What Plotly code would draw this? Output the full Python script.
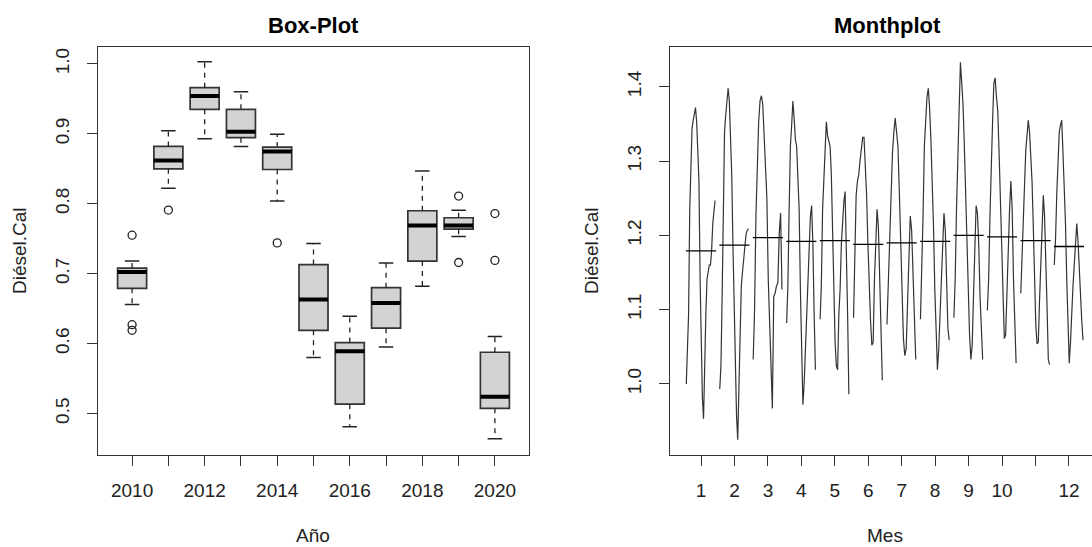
import plotly.graph_objects as go

# ---------------- Box-Plot: resumen anual de Diésel.Cal ----------------
anios = [2010, 2011, 2012, 2013, 2014, 2015, 2016, 2017, 2018, 2019, 2020]
bigote_inf = [0.656, 0.822, 0.893, 0.882, 0.804, 0.580, 0.481, 0.595, 0.682, 0.753, 0.464]
cuartil_1 = [0.679, 0.850, 0.935, 0.8945, 0.849, 0.619, 0.5134, 0.622, 0.718, 0.7637, 0.5075]
mediana = [0.7025, 0.862, 0.954, 0.903, 0.8746, 0.663, 0.589, 0.658, 0.769, 0.769, 0.524]
cuartil_3 = [0.708, 0.882, 0.966, 0.935, 0.881, 0.713, 0.6015, 0.680, 0.790, 0.780, 0.5876]
bigote_sup = [0.718, 0.9045, 1.003, 0.960, 0.8995, 0.743, 0.639, 0.7154, 0.847, 0.7906, 0.610]
atipicos_anio = [2010, 2010, 2010, 2011, 2014, 2019, 2019, 2020, 2020]
atipicos_valor = [0.755, 0.627, 0.619, 0.791, 0.744, 0.811, 0.716, 0.786, 0.719]

# ---------------- Monthplot: subseries por mes ----------------
mes_01 = [1.000, 1.047, 1.094, 1.235, 1.306, 1.344, 1.355, 1.367, 1.372, 1.353, 1.306, 1.273, 1.141,
          1.047, 0.981, 0.953, 1.042, 1.094, 1.141, 1.155, 1.160, 1.160, 1.179, 1.216, 1.235, 1.247]
mes_02 = [0.993, 1.024, 1.118, 1.273, 1.339, 1.362, 1.381, 1.398, 1.381, 1.329, 1.282, 1.188, 1.094,
          1.024, 0.958, 0.925, 1.000, 1.080, 1.132, 1.151, 1.169, 1.188, 1.202, 1.207, 1.209]
mes_03 = [1.033, 1.099, 1.226, 1.306, 1.353, 1.381, 1.388, 1.376, 1.339, 1.282, 1.249, 1.141, 1.071,
          1.024, 0.967, 1.118, 1.122, 1.132, 1.136, 1.202, 1.230, 1.127]
mes_04 = [1.082, 1.132, 1.235, 1.320, 1.348, 1.381, 1.358, 1.329, 1.320, 1.282, 1.235, 1.127, 1.024,
          0.972, 1.000, 1.047, 1.094, 1.132, 1.179, 1.226, 1.240, 1.188, 1.094, 1.019]
mes_05 = [1.087, 1.132, 1.235, 1.282, 1.320, 1.353, 1.334, 1.325, 1.320, 1.282, 1.188, 1.104, 1.056,
          1.024, 1.019, 1.094, 1.127, 1.188, 1.226, 1.245, 1.259, 1.188, 1.094, 0.986]
mes_06 = [1.089, 1.160, 1.254, 1.273, 1.282, 1.301, 1.320, 1.332, 1.332, 1.301, 1.254, 1.188, 1.127,
          1.085, 1.052, 1.056, 1.141, 1.179, 1.235, 1.212, 1.141, 1.056, 1.005]
mes_07 = [1.080, 1.132, 1.188, 1.264, 1.311, 1.339, 1.358, 1.339, 1.320, 1.259, 1.188, 1.118, 1.061,
          1.038, 1.047, 1.108, 1.160, 1.226, 1.207, 1.141, 1.075, 1.033]
mes_08 = [1.087, 1.141, 1.226, 1.320, 1.353, 1.386, 1.398, 1.372, 1.329, 1.282, 1.212, 1.127, 1.071,
          1.019, 1.047, 1.094, 1.151, 1.188, 1.230, 1.207, 1.132, 1.075, 1.059]
mes_09 = [1.089, 1.141, 1.235, 1.315, 1.376, 1.433, 1.405, 1.376, 1.320, 1.254, 1.179, 1.104, 1.066,
          1.033, 1.052, 1.118, 1.188, 1.240, 1.230, 1.188, 1.118, 1.066, 1.033]
mes_10 = [1.099, 1.141, 1.226, 1.301, 1.353, 1.405, 1.412, 1.386, 1.367, 1.311, 1.249, 1.165, 1.094,
          1.061, 1.066, 1.132, 1.188, 1.235, 1.273, 1.235, 1.141, 1.075, 1.028]
mes_11 = [1.122, 1.179, 1.216, 1.268, 1.315, 1.339, 1.355, 1.339, 1.311, 1.273, 1.212, 1.141, 1.080,
          1.054, 1.056, 1.113, 1.165, 1.226, 1.254, 1.226, 1.179, 1.104, 1.033, 1.026]
mes_12 = [1.160, 1.193, 1.254, 1.306, 1.339, 1.348, 1.355, 1.311, 1.273, 1.216, 1.141, 1.066, 1.028,
          1.056, 1.104, 1.132, 1.160, 1.188, 1.216, 1.193, 1.151, 1.113, 1.085, 1.059]
media_mes = [1.179, 1.187, 1.197, 1.192, 1.193, 1.188, 1.190, 1.192, 1.200, 1.198, 1.193, 1.185]
etiquetas_mes = ["1", "2", "3", "4", "5", "6", "7", "8", "9", "10", "", "12"]

W, H = 1092, 547
FONT = "Liberation Sans, Arial, Helvetica, sans-serif"
INK = "#222222"
FRAME = "#333333"


def fx(px):
    return px / W


def fy(py):
    return 1 - py / H


fig = go.Figure()

# --- boxes (R style) ---
ancho = 0.8
fig.add_trace(go.Bar(
    x=anios, y=[q3 - q1 for q1, q3 in zip(cuartil_1, cuartil_3)], base=cuartil_1,
    width=ancho, marker=dict(color="#D3D3D3", line=dict(color=FRAME, width=1.7)),
    xaxis="x", yaxis="y", hoverinfo="skip"))

wx, wy, sx, sy, mx, my = [], [], [], [], [], []
for a, lo, q1, md, q3, hi in zip(anios, bigote_inf, cuartil_1, mediana, cuartil_3, bigote_sup):
    wx += [a, a, None, a, a, None]
    wy += [q3, hi, None, q1, lo, None]
    sx += [a - ancho / 4, a + ancho / 4, None, a - ancho / 4, a + ancho / 4, None]
    sy += [hi, hi, None, lo, lo, None]
    mx += [a - ancho / 2, a + ancho / 2, None]
    my += [md, md, None]

fig.add_trace(go.Scatter(x=wx, y=wy, mode="lines", line=dict(color=INK, width=1.3, dash="5px,5px"),
                         xaxis="x", yaxis="y", hoverinfo="skip"))
fig.add_trace(go.Scatter(x=sx, y=sy, mode="lines", line=dict(color=INK, width=1.5),
                         xaxis="x", yaxis="y", hoverinfo="skip"))
fig.add_trace(go.Scatter(x=mx, y=my, mode="lines", line=dict(color="#000000", width=4),
                         xaxis="x", yaxis="y", hoverinfo="skip"))
fig.add_trace(go.Scatter(x=atipicos_anio, y=atipicos_valor, mode="markers",
                         marker=dict(symbol="circle-open", size=8, color=INK, line=dict(width=1.3)),
                         xaxis="x", yaxis="y", hoverinfo="skip"))

# --- monthplot ---
subseries = [mes_01, mes_02, mes_03, mes_04, mes_05, mes_06,
             mes_07, mes_08, mes_09, mes_10, mes_11, mes_12]
lx, ly, bx, by = [], [], [], []
for i, (serie, media) in enumerate(zip(subseries, media_mes), start=1):
    n = len(serie)
    lx += [i - 0.44 + 0.86 * k / (n - 1) for k in range(n)] + [None]
    ly += list(serie) + [None]
    bx += [i - 0.45, i + 0.45, None]
    by += [media, media, None]

fig.add_trace(go.Scatter(x=lx, y=ly, mode="lines", line=dict(color="#333333", width=1.2),
                         xaxis="x2", yaxis="y2", hoverinfo="skip"))
fig.add_trace(go.Scatter(x=bx, y=by, mode="lines", line=dict(color="#000000", width=1.3),
                         xaxis="x2", yaxis="y2", hoverinfo="skip"))

axis_common = dict(showgrid=False, zeroline=False, showline=True, linecolor=FRAME, linewidth=1.3,
                   ticks="outside", ticklen=10, tickwidth=1.2, tickcolor=FRAME,
                   tickfont=dict(family=FONT, size=19, color=INK))

ydom = [fy(454.5), fy(46.7)]
fig.update_layout(
    width=W, height=H, margin=dict(l=0, r=0, t=0, b=0),
    paper_bgcolor="white", plot_bgcolor="white", showlegend=False,
    xaxis=dict(domain=[fx(98), fx(529)], range=[2009.06, 2020.94], tickvals=anios,
               ticktext=[str(a) if a % 2 == 0 else "" for a in anios], mirror=True,
               ticklabelstandoff=9, anchor="y", **axis_common),
    yaxis=dict(domain=ydom, range=[0.4414, 1.0246], tickvals=[0.5, 0.6, 0.7, 0.8, 0.9, 1.0],
               ticktext=["0.5", "0.6", "0.7", "0.8", "0.9", "1.0"], tickangle=-90, mirror=True,
               ticklabelstandoff=10, anchor="x", **axis_common),
    xaxis2=dict(domain=[fx(670), 1.0], range=[0.073, 12.689], tickvals=list(range(1, 13)),
                ticktext=etiquetas_mes, mirror=True, ticklabelstandoff=9, anchor="y2", **axis_common),
    yaxis2=dict(domain=ydom, range=[0.905, 1.454], tickvals=[1.0, 1.1, 1.2, 1.3, 1.4],
                ticktext=["1.0", "1.1", "1.2", "1.3", "1.4"], tickangle=-90, mirror=False,
                ticklabelstandoff=10, anchor="x2", **axis_common),
)

textos = [
    dict(text="<b>Box-Plot</b>", x=fx(313), y=fy(25), size=22, angle=0),
    dict(text="<b>Monthplot</b>", x=fx(887), y=fy(25), size=22, angle=0),
    dict(text="Año", x=fx(313), y=fy(535), size=19, angle=0),
    dict(text="Mes", x=fx(885), y=fy(535), size=19, angle=0),
    dict(text="Diésel.Cal", x=fx(19), y=fy(251), size=19, angle=-90),
    dict(text="Diésel.Cal", x=fx(591), y=fy(251), size=19, angle=-90),
]
for t in textos:
    fig.add_annotation(text=t["text"], x=t["x"], y=t["y"], xref="paper", yref="paper",
                       xanchor="center", yanchor="middle", showarrow=False, textangle=t["angle"],
                       font=dict(family=FONT, size=t["size"], color="#000000" if t["size"] > 20 else INK))

fig.write_html("out.html")
